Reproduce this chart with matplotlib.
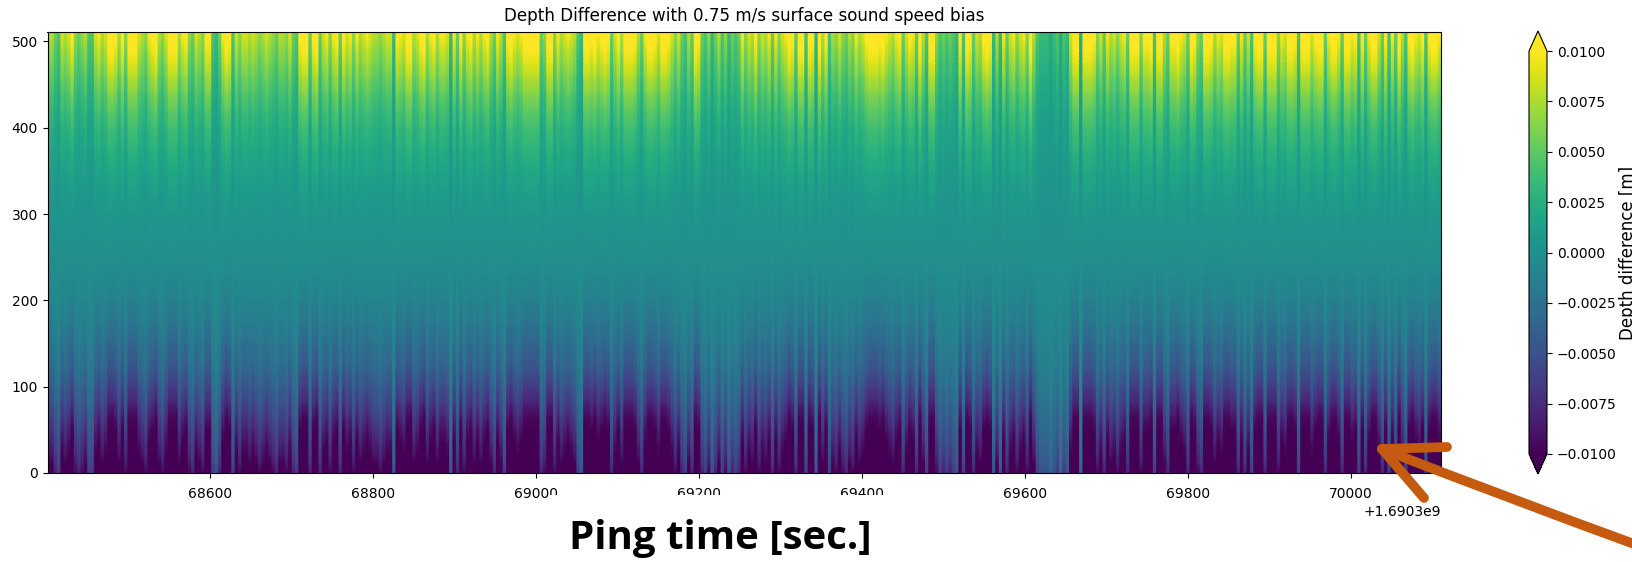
import numpy as np
import matplotlib
matplotlib.use('Agg')
import matplotlib.pyplot as plt
from matplotlib.lines import Line2D
from matplotlib.patches import PathPatch, Rectangle
from matplotlib.path import Path

# bias strength per ping, 0 (weak) to 9 (strong) left to right
pings_1 = [5,5,3,2,6,5,6,8,4,3,4,5,2,2,6,7,5,6,9,9,8,5,8,4,9,9,9,6,5,4,7,8,9,5,4,6,9,9,9,5,7,8,4,3,6,5,4,8,8,2,1,3,7,9,8,2,6,4,6,6,5,6,5,4,5,6,5,4,3,5]
pings_2 = [5,4,6,3,2,8,9,9,3,8,9,3,6,7,4,7,8,3,8,6,7,4,7,5,6,7,6,5,5,4,5,6,6,1,8,7,6,9,9,5,6,8,9,5,7,8,5,7,7,6,1,7,3,8,4,7,8,5,7,5,7,8,5,3,7,5,2,8,9,7]
pings_3 = [6,7,9,9,9,9,9,3,4,9,9,4,7,5,6,7,6,5,2,1,9,9,8,9,7,8,9,8,3,6,8,5,9,9,9,8,5,3,7,9,9,8,6,9,9,8,6,4,6,3,2,5,3,9,8,3,2,4,1,3,5,2,4,1,3,2,3,7,4,6]
pings_4 = [5,8,4,6,5,7,3,7,4,6,7,9,8,3,9,9,2,9,8,1,9,5,8,2,5,4,6,4,3,5,4,7,5,6,8,9,9,9,8,9,7,6,5,7,8,3,6,8,7,3,9,5,2,9,9,4,2,3,2,3,2,1,8,2,9,8,3,6,5,8]
pings_5 = [9,8,1,5,1,7,3,6,7,4,6,7,4,9,5,2,1,1,1,0,1,2,0,2,1,6,9,9,0,9,9,9,8,4,6,3,7,5,6,4,6,7,3,9,9,9,4,8,8,9,2,9,9,5,3,8,8,9,7,6,3,9,8,4,3,9,9,8,5,7]
pings_6 = [6,9,9,8,8,3,7,3,6,2,8,9,9,3,9,9,9,4,7,6,9,9,8,2,9,9,9,6,8,9,9,3,7,9,9,7,3,9,9,7,8,2,8,3,7,9,9,6,3,8,2,7,3,9,5,2,8,9,7,6,8,2,8,9,9,7]

# depth difference [m] of a strong ping at these beams
beams = [0, 10, 20, 35, 50, 65, 80, 100, 120, 150, 175, 200, 230, 260,
         300, 325, 350, 375, 400, 420, 440, 460, 475, 490, 500, 511]
strong_ping = [-0.018, -0.016, -0.0145, -0.013, -0.0115, -0.01, -0.0085, -0.0068, -0.0052, -0.0036, -0.0024, -0.0015, -0.0006, 0.0,
               0.0007, 0.0013, 0.0021, 0.003, 0.0041, 0.0052, 0.0066, 0.0082, 0.0094, 0.0106, 0.0116, 0.0125]

cbar_ticks = [-0.01, -0.0075, -0.005, -0.0025, 0.0, 0.0025, 0.005, 0.0075, 0.01]
time_offset = 1.6903e9
time_start = 68401
time_end = 70111
W, H = 1632, 562
ORANGE = '#c55a11'


def px(x, y):
    # picture pixels to figure fraction
    return x / W, 1 - y / H


def add_axes_px(fig, left, top, right, bottom):
    return fig.add_axes([left / W, 1 - bottom / H, (right - left) / W, (bottom - top) / H])


strength = np.array(pings_1 + pings_2 + pings_3 + pings_4 + pings_5 + pings_6)
gain = 0.2 + 0.085 * strength

# every ping gets both its edges, so gouraud only smooths along the beams
edges = time_offset + np.linspace(time_start, time_end, len(strength) + 1)
time = np.column_stack([edges[:-1], edges[1:]]).ravel()
depth_diff = np.outer(strong_ping, np.repeat(gain, 2))

fig = plt.figure(figsize=(W / 100, H / 100), dpi=100)
ax = add_axes_px(fig, 47.5, 32, 1441.5, 473)
mesh = ax.pcolormesh(time, beams, depth_diff, cmap='viridis', vmin=-0.01, vmax=0.01, shading='gouraud')
ax.set_xlim(time_offset + time_start, time_offset + time_end)
ax.set_ylim(0, 511)
ax.set_title('Depth Difference with 0.75 m/s surface sound speed bias', fontsize=12.1, pad=8)
ax.tick_params(axis='x', pad=6.5)

cax = add_axes_px(fig, 1529, 31, 1547, 474)
cbar = fig.colorbar(mesh, cax=cax, extend='both', ticks=cbar_ticks)
cbar.set_label('Depth difference [m]', fontsize=12, labelpad=2)

# the x label was pasted over the plot, its white box cuts some tick labels
fig.add_artist(Rectangle(px(549, 562), 351 / W, 67 / H, transform=fig.transFigure,
                         fc='white', ec='none', zorder=5))
fig.text(*px(720, 538), 'Ping time [sec.]', family='Open Sans', fontweight='bold', fontsize=29,
         ha='center', va='center', zorder=6)

# hand drawn arrow
verts = [px(1382, 449), px(1505, 497), px(1645, 548)]
fig.add_artist(PathPatch(Path(verts, [Path.MOVETO, Path.CURVE3, Path.CURVE3]), transform=fig.transFigure,
                         fc='none', ec=ORANGE, lw=7, capstyle='round', zorder=7))
for end in [(1447, 447), (1424, 498)]:
    x0, y0 = px(1382, 449)
    x1, y1 = px(*end)
    fig.add_artist(Line2D([x0, x1], [y0, y1], transform=fig.transFigure, color=ORANGE, lw=7,
                          solid_capstyle='round', zorder=7))

fig.savefig('out.png', dpi=100)
